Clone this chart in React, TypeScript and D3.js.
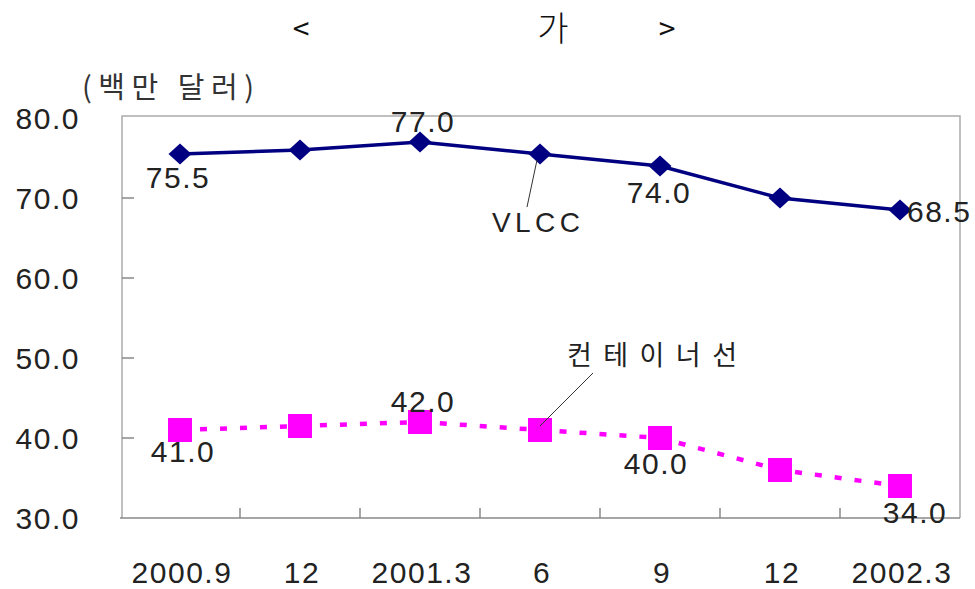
import * as d3 from 'd3'

// 신조선가 추이 (백만 달러)
const PERIODS = ['2000.9', '12', '2001.3', '6', '9', '12', '2002.3']
const VLCC = [75.5, 76.0, 77.0, 75.5, 74.0, 70.0, 68.5]
const CONTAINER = [41.0, 41.5, 42.0, 41.0, 40.0, 36.0, 34.0]
const Y_TICKS = [30, 40, 50, 60, 70, 80]

// which points carry a value label, and where it sits relative to the marker
const VLCC_LABELS = [
  { i: 0, dx: -2, dy: 34, anchor: 'middle' },
  { i: 2, dx: 3, dy: -10, anchor: 'middle' },
  { i: 4, dx: -1, dy: 37, anchor: 'middle' },
  { i: 6, dx: 7, dy: 12, anchor: 'start' },
]
const CONTAINER_LABELS = [
  { i: 0, dx: 3, dy: 32, anchor: 'middle' },
  { i: 2, dx: 3, dy: -10, anchor: 'middle' },
  { i: 4, dx: -4, dy: 36, anchor: 'middle' },
  { i: 6, dx: 15, dy: 37, anchor: 'middle' },
]

const W = 975
const H = 589
const margin = { top: 116, right: 15, bottom: 71, left: 122 }

const NUM_FONT = '"Liberation Sans", Arial, sans-serif'
const KR_FONT = '"Noto Sans CJK KR", "Noto Sans", sans-serif'

export default function App() {
  const x = d3.scaleBand<string>()
    .domain(PERIODS.map((p, i) => i + ':' + p))
    .range([120, W - margin.right])
  const keys = x.domain()
  const cx = (i: number) => (x(keys[i]) ?? 0) + x.bandwidth() / 2

  const y = d3.scaleLinear().domain([30, 80]).range([H - margin.bottom, 118])

  const vlccLine = d3.line<number>().x((_, i) => cx(i)).y((d) => y(d))
  const contLine = d3.line<number>().x((_, i) => cx(i)).y((d) => y(d))

  const x0 = margin.left
  const x1 = W - margin.right
  const yTop = margin.top
  const yBot = H - margin.bottom

  // wide diamond marker
  const diamond = 'M-11.5,0L0,-10.5L11.5,0L0,10.5Z'

  return (
    <svg width={W} height={H} style={{ position: 'absolute', left: 0, top: 0, background: '#fff' }}>
      {/* title (only the glyphs that survive in the original) */}
      <g fill="#111" fontFamily={KR_FONT}>
        <text x={301} y={40} textAnchor="middle" fontSize={30}>&lt;</text>
        <text x={553} y={41} textAnchor="middle" fontSize={34} fontWeight={300}>가</text>
        <text x={667} y={40} textAnchor="middle" fontSize={30}>&gt;</text>
      </g>

      {/* unit */}
      <text x={82} y={98} fontFamily={KR_FONT} fontSize={29} fill="#333" textLength={172} lengthAdjust="spacing">(백만 달러)</text>

      {/* frame */}
      <path d={`M${x0},${yBot}V${yTop}H${x1}V${yBot}`} fill="none" stroke="#aaa" strokeWidth={1.5} />
      <line x1={x0 - 2} x2={x1} y1={yBot} y2={yBot} stroke="#888" strokeWidth={1.5} />

      {/* y ticks */}
      {Y_TICKS.map((t) => (
        <g key={t}>
          {t > 30 && t < 80 && <line x1={x0} x2={x0 + 12} y1={y(t)} y2={y(t)} stroke="#888" strokeWidth={1.5} />}
          <text x={80} y={y(t) + 11} textAnchor="end" fontFamily={NUM_FONT} fontSize={30} fill="#222" letterSpacing={1.5}>{t.toFixed(1)}</text>
        </g>
      ))}

      {/* x ticks between categories */}
      {keys.slice(1).map((k) => (
        <line key={k} x1={x(k)} x2={x(k)} y1={yBot} y2={yBot - 10} stroke="#888" strokeWidth={1.5} />
      ))}
      {PERIODS.map((p, i) => (
        <text key={i} x={cx(i) + 2} y={583} textAnchor="middle" fontFamily={NUM_FONT} fontSize={30} fill="#222" letterSpacing={1.5}>{p}</text>
      ))}

      {/* VLCC */}
      <path d={vlccLine(VLCC) ?? ''} fill="none" stroke="#000080" strokeWidth={3.5} />
      {VLCC.map((v, i) => (
        <path key={i} d={diamond} transform={`translate(${cx(i)},${y(v)})`} fill="#000080" />
      ))}

      {/* container ships */}
      <path d={contLine(CONTAINER) ?? ''} fill="none" stroke="#ff00ff" strokeWidth={4.5} strokeDasharray="7 13" />
      {CONTAINER.map((v, i) => (
        <rect key={i} x={cx(i) - 12} y={y(v) - 12} width={24} height={24} fill="#ff00ff" />
      ))}

      {/* value labels */}
      <g fontFamily={NUM_FONT} fontSize={30} fill="#222" letterSpacing={1.5}>
        {VLCC_LABELS.map((l) => (
          <text key={'v' + l.i} x={cx(l.i) + l.dx} y={y(VLCC[l.i]) + l.dy} textAnchor={l.anchor}>{VLCC[l.i].toFixed(1)}</text>
        ))}
        {CONTAINER_LABELS.map((l) => (
          <text key={'c' + l.i} x={cx(l.i) + l.dx} y={y(CONTAINER[l.i]) + l.dy} textAnchor={l.anchor}>{CONTAINER[l.i].toFixed(1)}</text>
        ))}
      </g>

      {/* series callouts */}
      <line x1={cx(3) - 3} y1={y(VLCC[3]) + 6} x2={cx(3) - 13} y2={207} stroke="#333" strokeWidth={1} />
      <text x={492} y={232} fontFamily={NUM_FONT} fontSize={28} fill="#222" textLength={88} lengthAdjust="spacing">VLCC</text>
      <line x1={cx(3)} y1={y(CONTAINER[3]) - 4} x2={593} y2={373} stroke="#333" strokeWidth={1} />
      <text x={567} y={365} fontFamily={KR_FONT} fontSize={27} fill="#222" textLength={170} lengthAdjust="spacing">컨테이너선</text>
    </svg>
  )
}
